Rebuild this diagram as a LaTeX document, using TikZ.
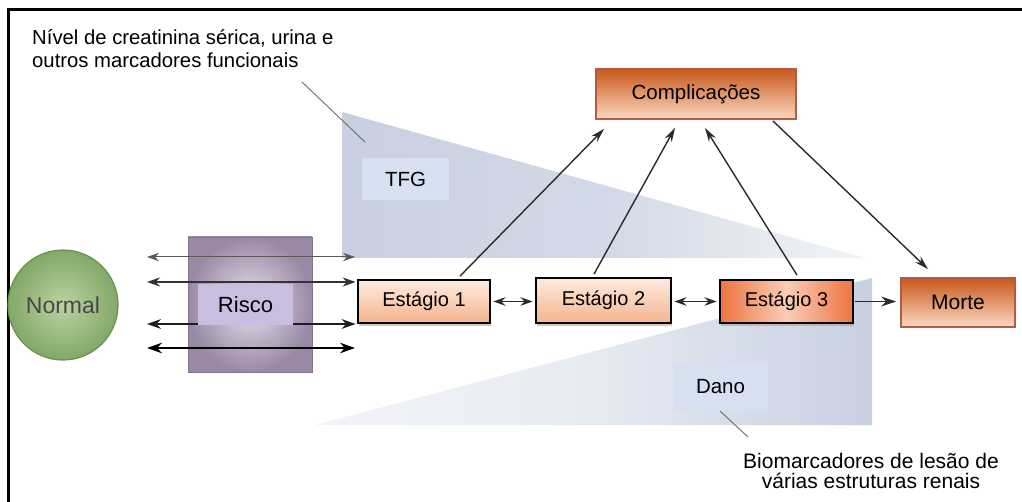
\documentclass[tikz,border=0pt]{standalone}
\usepackage{fontspec}
\setmainfont{Liberation Sans}
\usetikzlibrary{arrows.meta,calc,shadows}
\definecolor{triA}{HTML}{C8D0E0}
\definecolor{triM}{HTML}{D2D9E6}
\definecolor{triB}{HTML}{E6EAF2}
\definecolor{triF}{HTML}{F2F4F8}
\definecolor{lblc}{HTML}{D6E0F1}
\definecolor{stgtop}{HTML}{FDEBE0}
\definecolor{stgbot}{HTML}{F5B48C}
\definecolor{sthree}{HTML}{EE7440}
\definecolor{sthreemid}{HTML}{FACDB8}
\definecolor{ortop}{HTML}{C8581A}
\definecolor{orbot}{HTML}{FCD8C0}
\definecolor{orbord}{HTML}{B25A48}
\definecolor{shadowc}{HTML}{B89070}
\definecolor{grin}{HTML}{BCD2A2}
\definecolor{grout}{HTML}{82A866}
\definecolor{grbord}{HTML}{6B9050}
\definecolor{puin}{HTML}{E8E0EA}
\definecolor{puout}{HTML}{9A89A5}
\definecolor{pulbl}{HTML}{C9BEE0}
\definecolor{arrc}{HTML}{2A2A2A}
\definecolor{leadc}{HTML}{6A6A6A}
\begin{document}
\begin{tikzpicture}[x=1pt,y=-1pt,
  every node/.style={font=\fontsize{20}{23}\selectfont, inner sep=0pt},
  stagebox/.style={draw=black, line width=1.8pt, minimum width=132pt, minimum height=43pt,
    drop shadow={shadow xshift=1pt, shadow yshift=-3pt, fill=shadowc, opacity=0.5}},
  stagelight/.style={stagebox, top color=stgtop, bottom color=stgbot},
  orbox/.style={draw=orbord, line width=1.8pt, top color=ortop, bottom color=orbot},
  lblbox/.style={fill=lblc},
  dbl/.style={{Stealth[length=#1,width=0.7*#1]}-{Stealth[length=#1,width=0.7*#1]}},
  uparr/.style={draw=arrc, line width=1.4pt, -{Stealth[length=14pt,width=8pt]}},
  leader/.style={draw=leadc, line width=0.9pt}
]
\useasboundingbox (0,0) rectangle (1022,502);
% frame
\draw[line width=3pt] (8.5,502) -- (8.5,10) -- (1022,10);

% triangles
\shade[left color=triA, right color=triF, middle color=triM] (342,112) -- (342,258) -- (865,258) -- cycle;
\shade[left color=triF, right color=triA, middle color=triB] (315,425) -- (872,425) -- (872,278) -- cycle;

% labels on triangles
\node[lblbox, minimum width=87pt, minimum height=42pt, font=\fontsize{20.5}{23}\selectfont] (tfg) at (405.5,179) {TFG};
\node[lblbox, minimum width=95pt, minimum height=48pt, font=\fontsize{20.5}{23}\selectfont] (dano) at (720.5,387) {Dano};

% leader lines
\draw[leader] (302,82) -- (365,142);
\draw[leader] (720,411) -- (748,437);

% texts
\node[anchor=north west, align=left, font=\fontsize{20.3}{23}\selectfont] (toptxt) at (32,29)
  {Nível de creatinina sérica, urina e\\outros marcadores funcionais};
\node[anchor=north, align=center, font=\fontsize{21}{20.5}\selectfont] (bottxt) at (871,453)
  {Biomarcadores de lesão de\\várias estruturas renais};

% Normal and Risco
\node[circle, minimum size=110pt, draw=grbord, line width=1.2pt, inner color=grin, outer color=grout,
  text=black!72, font=\fontsize{23}{25}\selectfont] (normal) at (63,305) {Normal};
\node[minimum width=124pt, minimum height=135pt, draw=puout!85!black, line width=0.8pt,
  inner color=puin, outer color=puout] (risco) at (250,304.5) {};

% stages
\node[stagelight] (s1) at (424,301.5) {Estágio 1};
\node[stagelight, minimum width=135pt, minimum height=45pt] (s2) at (603.5,300.5) {Estágio 2};
\node[stagebox, left color=sthree, right color=sthree, middle color=sthreemid, minimum width=133pt] (s3) at (786.5,301.5) {Estágio 3};
\node[orbox, minimum width=114pt, minimum height=49pt, font=\fontsize{21}{23}\selectfont] (morte) at (958,302.5) {Morte};
\node[orbox, minimum width=200pt, minimum height=50pt, font=\fontsize{20.5}{23}\selectfont] (comp) at (696,94) {Complicações};

% arrows through Risco
\coordinate (a1l) at (147,257); \coordinate (a1r) at (355,257);
\coordinate (a2l) at (147,282);
\coordinate (a3l) at (147,324);
\coordinate (a4l) at (147,348); \coordinate (a4r) at (355,348);
\draw[dbl=12pt, draw=black!65, line width=1pt] (a1l) -- (a1r);
\draw[dbl=13pt, draw=black!80, line width=1.4pt, shorten >=1.5pt] (a2l) -- (a2l -| s1.west);
\draw[dbl=14pt, draw=black!88, line width=1.9pt, shorten >=1.5pt] (a3l) -- (a3l -| s1.west);
\draw[dbl=15pt, draw=black, line width=2.4pt] (a4l) -- (a4r);

% Risco label on top
\node[fill=pulbl, minimum width=95pt, minimum height=41pt, font=\fontsize{22}{24}\selectfont] (riscolbl) at (245.5,304.5) {Risco};

% arrows between stages
\draw[dbl=12pt, draw=arrc, line width=1.8pt, shorten <=2.5pt, shorten >=2.5pt] (s1.east) -- (s1.east -| s2.west);
\draw[dbl=12pt, draw=arrc, line width=1.8pt, shorten <=2.5pt, shorten >=2.5pt] (s2.east |- s3.west) -- (s3.west);
\draw[draw=arrc, line width=1.3pt, -{Stealth[length=15pt,width=10pt]}, shorten <=1pt, shorten >=4pt] (s3.east) -- (s3.east -| morte.west);

% arrows to/from Complicações
\draw[uparr] ($(s1.north)+(36,-3)$) -- ($(comp.south west)+(9,9)$);
\draw[uparr] ($(s2.north)+(-9.5,-3)$) -- ($(comp.south)+(-21,8)$);
\draw[uparr] ($(s3.north)+(10.5,-4)$) -- ($(comp.south)+(9,8)$);
\draw[uparr] ($(comp.south east)+(-24,1)$) -- ($(morte.north)+(-30,-8)$);
\end{tikzpicture}
\end{document}
